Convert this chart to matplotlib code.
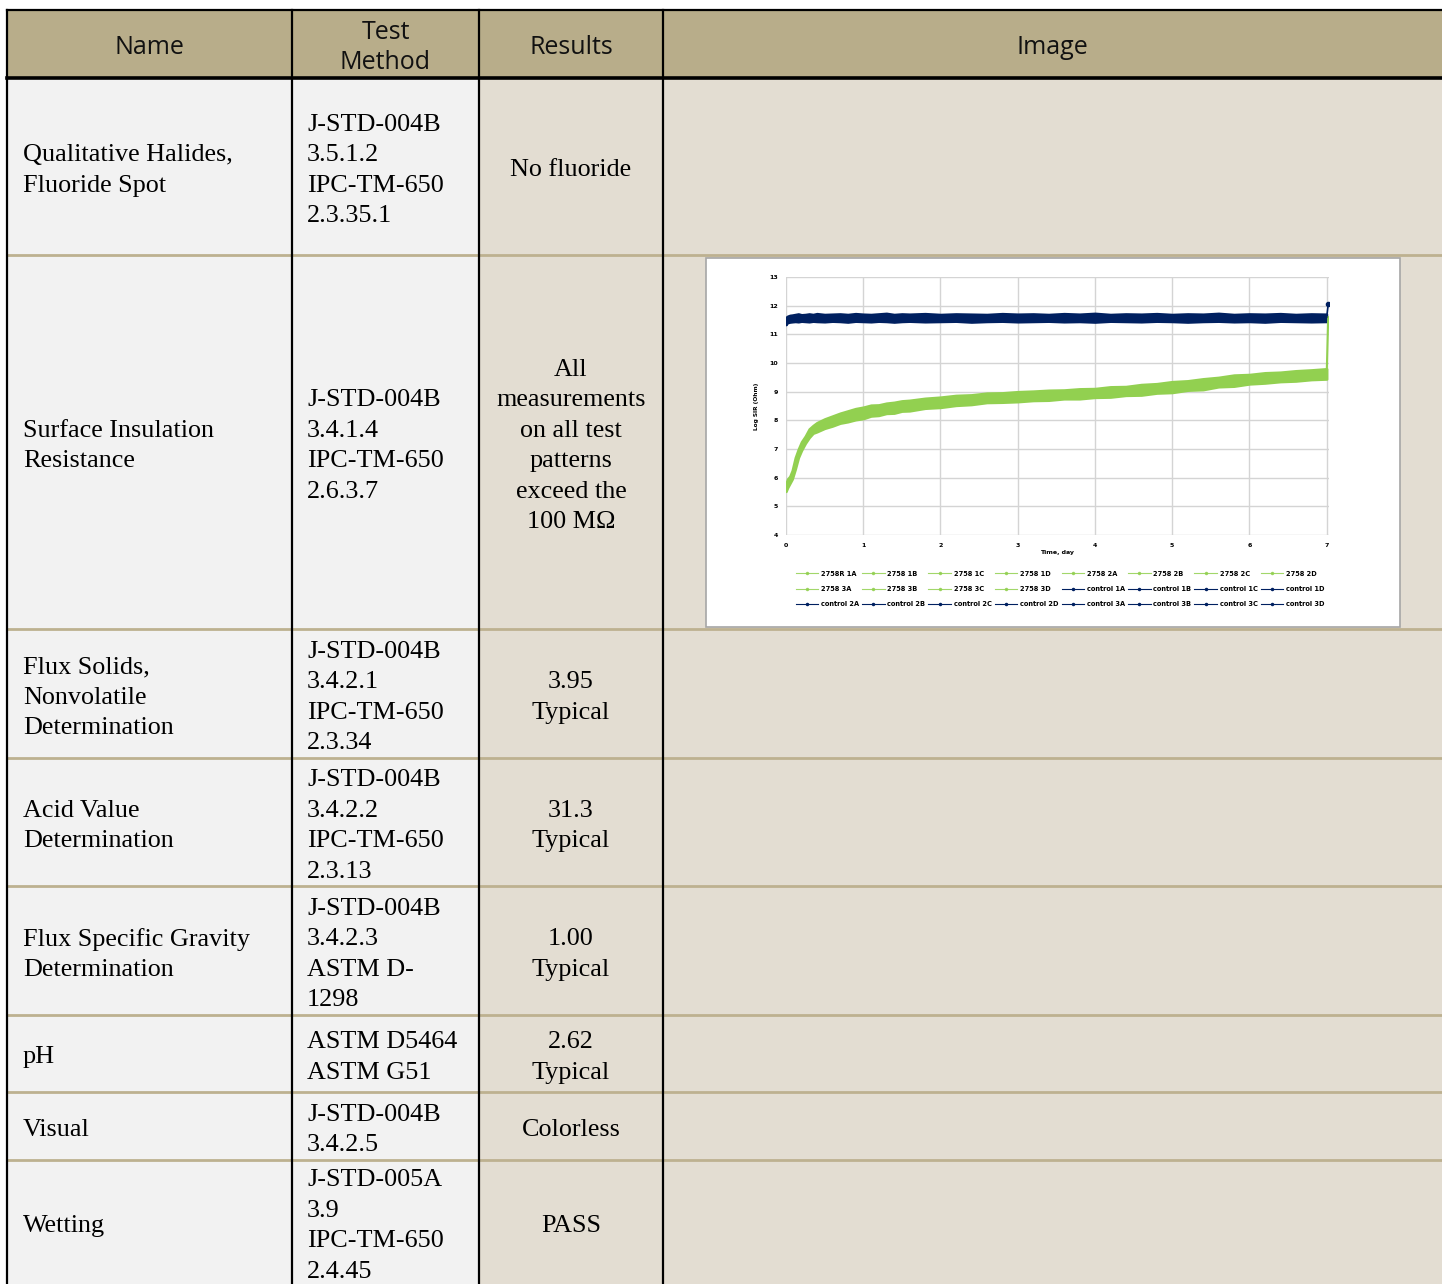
import matplotlib
matplotlib.use("Agg")
import matplotlib.pyplot as plt
from matplotlib.patches import Rectangle
from matplotlib.lines import Line2D

# table content
headers = [["Name"], ["Test", "Method"], ["Results"], ["Image"]]
names = [
    ["Qualitative Halides,", "Fluoride Spot"],
    ["Surface Insulation", "Resistance"],
    ["Flux Solids,", "Nonvolatile", "Determination"],
    ["Acid Value", "Determination"],
    ["Flux Specific Gravity", "Determination"],
    ["pH"],
    ["Visual"],
    ["Wetting"],
]
methods = [
    ["J-STD-004B", "3.5.1.2", "IPC-TM-650", "2.3.35.1"],
    ["J-STD-004B", "3.4.1.4", "IPC-TM-650", "2.6.3.7"],
    ["J-STD-004B", "3.4.2.1", "IPC-TM-650", "2.3.34"],
    ["J-STD-004B", "3.4.2.2", "IPC-TM-650", "2.3.13"],
    ["J-STD-004B", "3.4.2.3", "ASTM D-", "1298"],
    ["ASTM D5464", "ASTM G51"],
    ["J-STD-004B", "3.4.2.5"],
    ["J-STD-005A", "3.9", "IPC-TM-650", "2.4.45"],
]
results = [
    ["No fluoride"],
    ["All", "measurements", "on all test", "patterns", "exceed the", "100 M\u03a9"],
    ["3.95", "Typical"],
    ["31.3", "Typical"],
    ["1.00", "Typical"],
    ["2.62", "Typical"],
    ["Colorless"],
    ["PASS"],
]

# SIR chart data
t_days = [0, 0.02, 0.05, 0.08, 0.12, 0.16, 0.2, 0.25, 0.3, 0.35, 0.4, 0.5, 0.6,
          0.7, 0.8, 0.9, 1.0, 1.1, 1.2, 1.3, 1.4, 1.5, 1.6, 1.8, 2.0, 2.2, 2.4,
          2.6, 2.8, 3.0, 3.2, 3.4, 3.6, 3.8, 4.0, 4.2, 4.4, 4.6, 4.8, 5.0, 5.2,
          5.4, 5.6, 5.8, 6.0, 6.2, 6.4, 6.6, 6.8, 7.0]
flux_lo = [5.52, 5.65, 5.8, 5.95, 6.3, 6.7, 6.95, 7.2, 7.4, 7.55, 7.6, 7.72, 7.8,
           7.9, 7.95, 8.02, 8.06, 8.15, 8.17, 8.24, 8.25, 8.32, 8.33, 8.42, 8.45,
           8.52, 8.55, 8.62, 8.63, 8.65, 8.69, 8.7, 8.75, 8.75, 8.8, 8.81, 8.87,
           8.88, 8.95, 8.97, 9.05, 9.07, 9.17, 9.19, 9.27, 9.3, 9.35, 9.37, 9.42, 9.44]
flux_hi = [5.8, 5.95, 6.05, 6.25, 6.7, 7.0, 7.25, 7.45, 7.7, 7.82, 7.92, 8.05, 8.15,
           8.25, 8.33, 8.41, 8.46, 8.53, 8.54, 8.6, 8.63, 8.68, 8.7, 8.77, 8.81,
           8.87, 8.89, 8.95, 8.96, 9.0, 9.02, 9.05, 9.06, 9.1, 9.11, 9.17, 9.18,
           9.25, 9.28, 9.35, 9.38, 9.45, 9.5, 9.58, 9.6, 9.66, 9.68, 9.73, 9.76, 9.8]
ctrl_lo = [11.33, 11.4, 11.42, 11.43, 11.44, 11.43, 11.45, 11.44, 11.43, 11.45,
           11.44, 11.43, 11.45, 11.44, 11.42, 11.45, 11.44, 11.43, 11.45, 11.44,
           11.42, 11.44, 11.45, 11.43, 11.44, 11.45, 11.42, 11.44, 11.45, 11.43,
           11.44, 11.45, 11.43, 11.44, 11.42, 11.45, 11.44, 11.43, 11.45, 11.44,
           11.42, 11.44, 11.45, 11.43, 11.44, 11.42, 11.45, 11.44, 11.43, 11.44]
ctrl_hi = [11.6, 11.64, 11.67, 11.68, 11.7, 11.72, 11.69, 11.7, 11.72, 11.7,
           11.73, 11.7, 11.71, 11.72, 11.7, 11.73, 11.71, 11.7, 11.72, 11.74,
           11.7, 11.72, 11.71, 11.73, 11.7, 11.72, 11.71, 11.7, 11.73, 11.71,
           11.72, 11.7, 11.73, 11.71, 11.74, 11.7, 11.72, 11.71, 11.73, 11.7,
           11.72, 11.71, 11.74, 11.7, 11.72, 11.71, 11.73, 11.7, 11.72, 11.71]
t_end = [7.0, 7.02]
flux_end = [9.6, 11.6]
ctrl_end = [11.6, 12.05]
legend_names = ["2758R 1A", "2758 1B", "2758 1C", "2758 1D", "2758 2A", "2758 2B",
                "2758 2C", "2758 2D", "2758 3A", "2758 3B", "2758 3C", "2758 3D",
                "control 1A", "control 1B", "control 1C", "control 1D",
                "control 2A", "control 2B", "control 2C", "control 2D",
                "control 3A", "control 3B", "control 3C", "control 3D"]

W, H = 1442, 1284
col_x = [7, 292, 479, 663, 1442]
row_y = [10, 78, 255, 629, 758, 886, 1015, 1092, 1160, 1284]

head_bg = "#B8AD8A"
grey_bg = "#F2F2F2"
beige_bg = "#E3DDD2"
sep_col = "#BDB190"
serif = "Liberation Serif"
sans = "Open Sans"
body_fs = 18.8
line_h = 30.5

fig = plt.figure(figsize=(W / 100, H / 100), dpi=100)
ax = fig.add_axes([0, 0, 1, 1])
ax.set_xlim(0, W)
ax.set_ylim(H, 0)
ax.axis("off")

# backgrounds
ax.add_patch(Rectangle((col_x[0], row_y[0]), W - col_x[0], row_y[1] - row_y[0],
                       facecolor=head_bg, edgecolor="none"))
for c in range(4):
    bg = grey_bg if c < 2 else beige_bg
    ax.add_patch(Rectangle((col_x[c], row_y[1]), col_x[c + 1] - col_x[c],
                           H - row_y[1], facecolor=bg, edgecolor="none"))

# row separators
for y in row_y[2:-1]:
    ax.plot([col_x[0], W], [y, y], color=sep_col, lw=2, solid_capstyle="butt")
# black borders
ax.plot([col_x[0], W], [row_y[0], row_y[0]], color="black", lw=1.6)
ax.plot([col_x[0], W], [row_y[1], row_y[1]], color="black", lw=2.6)
for x in col_x[:4]:
    ax.plot([x, x], [row_y[0], H], color="black", lw=1.6)

# header text
for c, h in enumerate(headers):
    cx = (col_x[c] + col_x[c + 1]) / 2
    yc = (row_y[0] + row_y[1]) / 2
    for i, s in enumerate(h):
        y = yc + (i - (len(h) - 1) / 2) * 30 + 3.5
        ax.text(cx, y, s, ha="center", va="center", fontsize=18,
                family=sans, color="#111111")


def block(lines, x, yc, ha):
    n = len(lines)
    for i, s in enumerate(lines):
        y = yc + (i - (n - 1) / 2) * line_h + 4
        ax.text(x, y, s, ha=ha, va="center", fontsize=body_fs, family=serif,
                color="black")


for r in range(len(names)):
    yc = (row_y[r + 1] + row_y[r + 2]) / 2
    block(names[r], 23, yc, "left")
    block(methods[r], 307, yc, "left")
    block(results[r], (col_x[2] + col_x[3]) / 2, yc, "center")

# image box for the SIR chart
ax.add_patch(Rectangle((706, 258), 694, 369, facecolor="white",
                       edgecolor="#A6A6A6", lw=1.2, zorder=3))

# SIR chart
green = "#92D050"
navy = "#002060"
cax = fig.add_axes([786 / W, 1 - 535 / H, 543 / W, 258 / H])
cax.fill_between(t_days, flux_lo, flux_hi, color=green, lw=1.8, zorder=3)
cax.fill_between(t_days, ctrl_lo, ctrl_hi, color=navy, lw=1.5, zorder=3)
cax.plot(t_end, flux_end, color=green, lw=1.5, zorder=3)
cax.plot(t_end, ctrl_end, color=navy, lw=1.2, marker="o", markersize=3,
         markevery=[1], zorder=4)
cax.set_xlim(0, 7.03)
cax.set_ylim(4, 13)
cax.set_xticks(range(0, 8))
cax.set_yticks(range(4, 14))
cax.grid(True, color="#D4D4D4", lw=1.0)
cax.set_axisbelow(True)
for s in cax.spines.values():
    s.set_visible(False)
cax.tick_params(length=0, labelsize=4.5, pad=6)
for lab in cax.get_xticklabels() + cax.get_yticklabels():
    lab.set_fontweight("bold")
cax.set_xlabel("Time, day", fontsize=4.5, fontweight="bold", labelpad=1)
cax.set_ylabel("Log SIR (Ohm)", fontsize=4.2, fontweight="bold", labelpad=7)

handles = []
for nm in legend_names:
    col = green if nm.startswith("2758") else navy
    handles.append(Line2D([], [], color=col, lw=0.8, marker="o", markersize=1.5,
                          alpha=0.85 if col == green else 1))
nrow, ncol = 3, 8
order = [r * ncol + c for c in range(ncol) for r in range(nrow)]
fig.legend([handles[i] for i in order], [legend_names[i] for i in order],
           loc="center", bbox_to_anchor=(1060 / W, 1 - 589 / H), ncol=ncol,
           frameon=False, handlelength=3.4, handletextpad=0.4, columnspacing=0.45,
           labelspacing=1.4, prop={"size": 4.8, "weight": "bold"})

fig.savefig("out.png", dpi=100)
